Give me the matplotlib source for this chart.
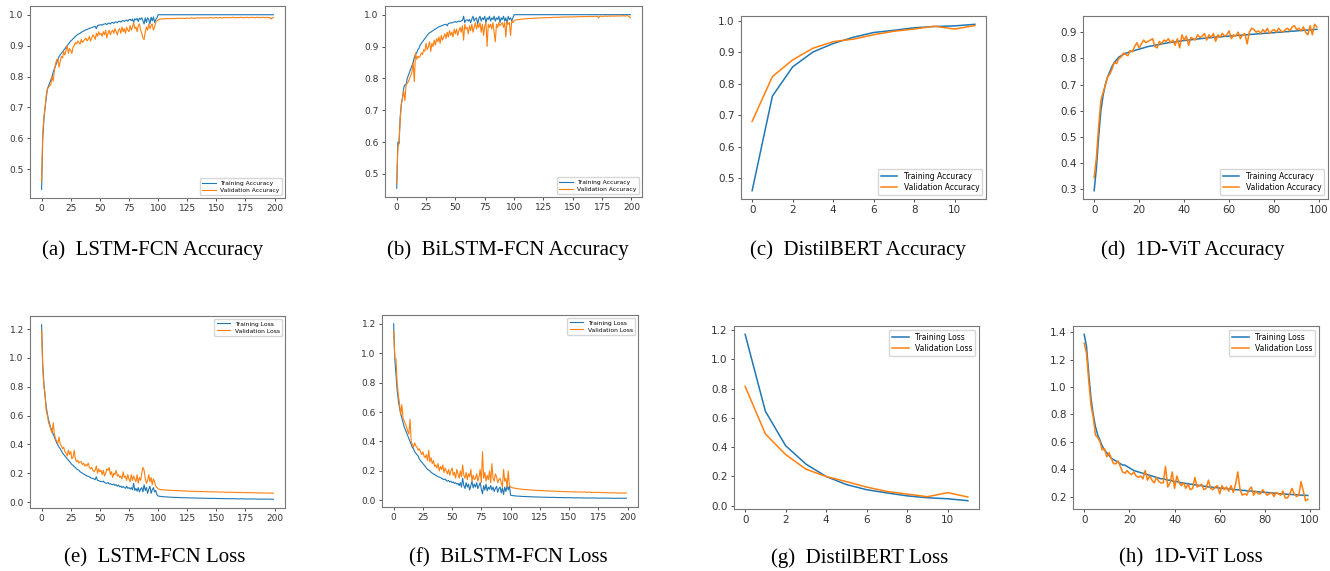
import matplotlib
matplotlib.use("Agg")
import matplotlib.pyplot as plt

# ---- LSTM-FCN (200 epochs) ----
lstm_acc_train = [
    0.435, 0.60, 0.66, 0.70, 0.73, 0.76, 0.77, 0.78, 0.79, 0.80,
    0.815, 0.825, 0.835, 0.845, 0.855, 0.865, 0.87, 0.875, 0.88, 0.885,
    0.89, 0.895, 0.90, 0.905, 0.91, 0.915, 0.918, 0.922, 0.926, 0.93,
    0.933, 0.936, 0.938, 0.94, 0.943, 0.945, 0.947, 0.949, 0.951, 0.952,
    0.954, 0.956, 0.957, 0.958, 0.960, 0.961, 0.962, 0.955, 0.965, 0.966,
    0.967, 0.968, 0.966, 0.969, 0.970, 0.971, 0.968, 0.972, 0.973, 0.970,
    0.974, 0.975, 0.972, 0.976, 0.977, 0.974, 0.978, 0.979, 0.976, 0.980,
    0.981, 0.978, 0.982, 0.983, 0.979, 0.984, 0.985, 0.981, 0.986, 0.975,
    0.987, 0.983, 0.988, 0.978, 0.989, 0.985, 0.99, 0.98, 0.97, 0.99,
    0.975, 0.99, 0.985, 0.97, 0.992, 0.98, 0.993, 0.975, 0.985, 0.99,
    1.0, 1.0, 1.0, 1.0, 1.0, 1.0, 1.0, 1.0, 1.0, 1.0,
    1.0, 1.0, 1.0, 1.0, 1.0, 1.0, 1.0, 1.0, 1.0, 1.0,
    1.0, 1.0, 1.0, 1.0, 1.0, 1.0, 1.0, 1.0, 1.0, 1.0,
    1.0, 1.0, 1.0, 1.0, 1.0, 1.0, 1.0, 1.0, 1.0, 1.0,
    1.0, 1.0, 1.0, 1.0, 1.0, 1.0, 1.0, 1.0, 1.0, 1.0,
    1.0, 1.0, 1.0, 1.0, 1.0, 1.0, 1.0, 1.0, 1.0, 1.0,
    1.0, 1.0, 1.0, 1.0, 1.0, 1.0, 1.0, 1.0, 1.0, 1.0,
    1.0, 1.0, 1.0, 1.0, 1.0, 1.0, 1.0, 1.0, 1.0, 1.0,
    1.0, 1.0, 1.0, 1.0, 1.0, 1.0, 1.0, 1.0, 1.0, 1.0,
    1.0, 1.0, 1.0, 1.0, 1.0, 1.0, 1.0, 1.0, 1.0, 1.0,
]
lstm_acc_val = [
    0.46, 0.62, 0.67, 0.70, 0.74, 0.76, 0.765, 0.77, 0.775, 0.80,
    0.785, 0.82, 0.84, 0.855, 0.855, 0.83, 0.85, 0.865, 0.86, 0.88,
    0.87, 0.885, 0.90, 0.875, 0.89, 0.885, 0.875, 0.895, 0.90, 0.91,
    0.905, 0.915, 0.91, 0.905, 0.92, 0.91, 0.915, 0.92, 0.925, 0.915,
    0.92, 0.93, 0.915, 0.925, 0.935, 0.93, 0.92, 0.94, 0.93, 0.945,
    0.935, 0.94, 0.93, 0.945, 0.935, 0.95, 0.925, 0.94, 0.95, 0.935,
    0.945, 0.95, 0.94, 0.955, 0.945, 0.935, 0.95, 0.955, 0.94, 0.96,
    0.945, 0.955, 0.94, 0.96, 0.95, 0.945, 0.965, 0.95, 0.96, 0.975,
    0.955, 0.96, 0.945, 0.965, 0.97, 0.95, 0.94, 0.925, 0.92, 0.945,
    0.96, 0.95, 0.97, 0.955, 0.965, 0.97, 0.95, 0.96, 0.975, 0.98,
    0.983, 0.985, 0.986, 0.986, 0.987, 0.986, 0.987, 0.987, 0.988, 0.987,
    0.988, 0.987, 0.988, 0.988, 0.987, 0.988, 0.988, 0.989, 0.988, 0.988,
    0.989, 0.988, 0.989, 0.987, 0.989, 0.989, 0.988, 0.989, 0.989, 0.99,
    0.989, 0.988, 0.989, 0.99, 0.989, 0.99, 0.989, 0.99, 0.99, 0.989,
    0.99, 0.99, 0.989, 0.99, 0.99, 0.991, 0.99, 0.989, 0.99, 0.99,
    0.991, 0.99, 0.99, 0.991, 0.99, 0.989, 0.991, 0.99, 0.991, 0.99,
    0.991, 0.991, 0.99, 0.991, 0.992, 0.991, 0.99, 0.991, 0.991, 0.99,
    0.991, 0.992, 0.991, 0.99, 0.991, 0.991, 0.992, 0.991, 0.99, 0.991,
    0.992, 0.991, 0.991, 0.99, 0.991, 0.992, 0.991, 0.99, 0.991, 0.991,
    0.992, 0.991, 0.99, 0.991, 0.992, 0.99, 0.991, 0.986, 0.99, 0.991,
]
lstm_loss_train = [
    1.23, 0.95, 0.82, 0.73, 0.66, 0.61, 0.57, 0.54, 0.51, 0.49,
    0.47, 0.45, 0.43, 0.41, 0.395, 0.38, 0.37, 0.355, 0.34, 0.33,
    0.32, 0.31, 0.30, 0.29, 0.28, 0.27, 0.26, 0.255, 0.245, 0.24,
    0.23, 0.225, 0.22, 0.21, 0.205, 0.20, 0.195, 0.19, 0.185, 0.18,
    0.178, 0.175, 0.17, 0.165, 0.163, 0.16, 0.155, 0.175, 0.15, 0.148,
    0.145, 0.142, 0.14, 0.145, 0.135, 0.132, 0.13, 0.135, 0.125, 0.128,
    0.122, 0.12, 0.125, 0.115, 0.12, 0.11, 0.118, 0.105, 0.11, 0.10,
    0.108, 0.10, 0.095, 0.11, 0.095, 0.10, 0.09, 0.10, 0.085, 0.13,
    0.08, 0.095, 0.075, 0.10, 0.07, 0.09, 0.10, 0.07, 0.12, 0.08,
    0.10, 0.06, 0.09, 0.11, 0.06, 0.085, 0.10, 0.07, 0.08, 0.05,
    0.042, 0.040, 0.039, 0.038, 0.037, 0.036, 0.036, 0.035, 0.035, 0.034,
    0.034, 0.033, 0.033, 0.033, 0.032, 0.032, 0.032, 0.031, 0.031, 0.031,
    0.030, 0.030, 0.030, 0.030, 0.029, 0.029, 0.029, 0.029, 0.028, 0.028,
    0.028, 0.028, 0.028, 0.027, 0.027, 0.027, 0.027, 0.027, 0.026, 0.026,
    0.026, 0.026, 0.026, 0.026, 0.025, 0.025, 0.025, 0.025, 0.025, 0.025,
    0.025, 0.024, 0.024, 0.024, 0.024, 0.024, 0.024, 0.024, 0.023, 0.023,
    0.023, 0.023, 0.023, 0.023, 0.023, 0.023, 0.022, 0.022, 0.022, 0.022,
    0.022, 0.022, 0.022, 0.022, 0.022, 0.021, 0.021, 0.021, 0.021, 0.021,
    0.021, 0.021, 0.021, 0.021, 0.021, 0.020, 0.020, 0.020, 0.020, 0.020,
    0.020, 0.020, 0.020, 0.020, 0.020, 0.020, 0.020, 0.019, 0.019, 0.019,
]
lstm_loss_val = [
    1.19, 0.92, 0.80, 0.75, 0.63, 0.60, 0.55, 0.53, 0.50, 0.48,
    0.55, 0.47, 0.44, 0.42, 0.41, 0.45, 0.40, 0.39, 0.37, 0.38,
    0.35, 0.34, 0.32, 0.36, 0.33, 0.35, 0.30, 0.31, 0.36, 0.30,
    0.28, 0.29, 0.27, 0.28, 0.28, 0.26, 0.27, 0.25, 0.26, 0.25,
    0.27, 0.24, 0.23, 0.24, 0.22, 0.21, 0.22, 0.25, 0.20, 0.23,
    0.21, 0.22, 0.19, 0.22, 0.18, 0.20, 0.23, 0.22, 0.24, 0.19,
    0.21, 0.17, 0.20, 0.19, 0.22, 0.18, 0.19, 0.17, 0.18, 0.16,
    0.21, 0.17, 0.18, 0.15, 0.19, 0.16, 0.14, 0.19, 0.15, 0.18,
    0.16, 0.14, 0.19, 0.13, 0.17, 0.15, 0.20, 0.24, 0.22, 0.16,
    0.13, 0.15, 0.19, 0.14, 0.17, 0.12, 0.16, 0.14, 0.11, 0.10,
    0.092, 0.088, 0.086, 0.085, 0.085, 0.084, 0.083, 0.083, 0.082, 0.082,
    0.081, 0.081, 0.080, 0.080, 0.080, 0.079, 0.079, 0.078, 0.078, 0.078,
    0.077, 0.077, 0.077, 0.076, 0.076, 0.076, 0.075, 0.075, 0.075, 0.075,
    0.074, 0.074, 0.074, 0.074, 0.073, 0.073, 0.073, 0.073, 0.072, 0.072,
    0.072, 0.072, 0.071, 0.071, 0.071, 0.071, 0.071, 0.070, 0.072, 0.070,
    0.070, 0.070, 0.069, 0.069, 0.069, 0.069, 0.069, 0.068, 0.068, 0.068,
    0.068, 0.068, 0.068, 0.067, 0.067, 0.067, 0.067, 0.067, 0.066, 0.066,
    0.066, 0.066, 0.066, 0.066, 0.065, 0.065, 0.065, 0.065, 0.064, 0.066,
    0.065, 0.064, 0.064, 0.064, 0.064, 0.063, 0.064, 0.063, 0.063, 0.063,
    0.063, 0.063, 0.062, 0.062, 0.062, 0.062, 0.062, 0.061, 0.062, 0.060,
]

# ---- BiLSTM-FCN (200 epochs) ----
bilstm_acc_train = [
    0.455, 0.60, 0.595, 0.68, 0.72, 0.74, 0.77, 0.78, 0.78, 0.80,
    0.81, 0.82, 0.83, 0.84, 0.85, 0.865, 0.875, 0.88, 0.89, 0.895,
    0.905, 0.91, 0.915, 0.92, 0.925, 0.93, 0.935, 0.94, 0.943, 0.945,
    0.948, 0.95, 0.953, 0.955, 0.957, 0.96, 0.962, 0.963, 0.965, 0.966,
    0.968, 0.969, 0.97, 0.965, 0.972, 0.973, 0.975, 0.974, 0.976, 0.977,
    0.978, 0.976, 0.979, 0.98, 0.978, 0.981, 0.982, 0.995, 0.975, 0.983,
    0.984, 0.98, 0.985, 0.975, 0.986, 0.995, 0.98, 0.987, 0.99, 0.97,
    0.988, 0.995, 0.98, 0.99, 0.985, 0.995, 0.975, 0.99, 0.985, 0.995,
    0.98, 0.99, 0.985, 0.995, 0.98, 0.99, 0.985, 0.995, 0.975, 0.99,
    0.985, 0.995, 0.98, 0.99, 0.97, 0.995, 0.985, 0.99, 0.98, 0.99,
    1.0, 1.0, 1.0, 1.0, 1.0, 1.0, 1.0, 1.0, 1.0, 1.0,
    1.0, 1.0, 1.0, 1.0, 1.0, 1.0, 1.0, 1.0, 1.0, 1.0,
    1.0, 1.0, 1.0, 1.0, 1.0, 1.0, 1.0, 1.0, 1.0, 1.0,
    1.0, 1.0, 1.0, 1.0, 1.0, 1.0, 1.0, 1.0, 1.0, 1.0,
    1.0, 1.0, 1.0, 1.0, 1.0, 1.0, 1.0, 1.0, 1.0, 1.0,
    1.0, 1.0, 1.0, 1.0, 1.0, 1.0, 1.0, 1.0, 1.0, 1.0,
    1.0, 1.0, 1.0, 1.0, 1.0, 1.0, 1.0, 1.0, 1.0, 1.0,
    1.0, 1.0, 1.0, 1.0, 1.0, 1.0, 1.0, 1.0, 1.0, 1.0,
    1.0, 1.0, 1.0, 1.0, 1.0, 1.0, 1.0, 1.0, 1.0, 1.0,
    1.0, 1.0, 1.0, 1.0, 1.0, 1.0, 1.0, 1.0, 1.0, 1.0,
]
bilstm_acc_val = [
    0.47, 0.58, 0.60, 0.67, 0.72, 0.74, 0.76, 0.73, 0.78, 0.785,
    0.79, 0.80, 0.81, 0.82, 0.85, 0.79, 0.88, 0.86, 0.87, 0.865,
    0.87, 0.88, 0.875, 0.89, 0.885, 0.91, 0.89, 0.90, 0.915, 0.885,
    0.91, 0.90, 0.92, 0.905, 0.925, 0.915, 0.93, 0.91, 0.935, 0.92,
    0.93, 0.94, 0.925, 0.945, 0.93, 0.95, 0.935, 0.945, 0.93, 0.955,
    0.94, 0.955, 0.935, 0.95, 0.96, 0.945, 0.965, 0.92, 0.97, 0.955,
    0.96, 0.94, 0.965, 0.95, 0.97, 0.945, 0.96, 0.975, 0.955, 0.97,
    0.96, 0.975, 0.945, 0.97, 0.935, 0.965, 0.975, 0.90, 0.97, 0.96,
    0.97, 0.955, 0.975, 0.945, 0.915, 0.97, 0.96, 0.975, 0.965, 0.97,
    0.975, 0.96, 0.975, 0.93, 0.98, 0.97, 0.975, 0.935, 0.98, 0.975,
    0.982, 0.983, 0.984, 0.984, 0.985, 0.985, 0.986, 0.986, 0.986, 0.987,
    0.987, 0.987, 0.988, 0.988, 0.988, 0.988, 0.989, 0.989, 0.989, 0.989,
    0.99, 0.989, 0.99, 0.99, 0.99, 0.99, 0.991, 0.99, 0.991, 0.991,
    0.991, 0.991, 0.991, 0.992, 0.991, 0.992, 0.992, 0.992, 0.992, 0.992,
    0.992, 0.993, 0.992, 0.993, 0.993, 0.993, 0.992, 0.993, 0.993, 0.993,
    0.993, 0.994, 0.993, 0.993, 0.994, 0.993, 0.994, 0.994, 0.994, 0.994,
    0.994, 0.994, 0.994, 0.995, 0.994, 0.994, 0.995, 0.994, 0.995, 0.995,
    0.995, 0.995, 0.99, 0.995, 0.995, 0.995, 0.995, 0.995, 0.996, 0.995,
    0.995, 0.996, 0.995, 0.996, 0.996, 0.995, 0.996, 0.996, 0.996, 0.996,
    0.996, 0.996, 0.996, 0.997, 0.996, 0.996, 0.997, 0.996, 0.995, 0.99,
]
bilstm_loss_train = [
    1.20, 0.96, 0.85, 0.75, 0.68, 0.63, 0.59, 0.56, 0.53, 0.50,
    0.48, 0.46, 0.44, 0.42, 0.40, 0.38, 0.36, 0.35, 0.33, 0.32,
    0.31, 0.30, 0.28, 0.27, 0.26, 0.25, 0.24, 0.23, 0.22, 0.21,
    0.205, 0.20, 0.19, 0.185, 0.18, 0.175, 0.17, 0.165, 0.16, 0.158,
    0.155, 0.15, 0.145, 0.14, 0.145, 0.135, 0.13, 0.135, 0.125, 0.13,
    0.12, 0.125, 0.115, 0.12, 0.11, 0.115, 0.10, 0.12, 0.09, 0.15,
    0.10, 0.08, 0.12, 0.09, 0.11, 0.07, 0.10, 0.13, 0.085, 0.11,
    0.09, 0.12, 0.08, 0.10, 0.12, 0.075, 0.045, 0.10, 0.07, 0.11,
    0.065, 0.09, 0.075, 0.10, 0.07, 0.09, 0.06, 0.08, 0.095, 0.055,
    0.08, 0.09, 0.05, 0.085, 0.04, 0.09, 0.06, 0.10, 0.07, 0.10,
    0.035, 0.033, 0.032, 0.031, 0.030, 0.029, 0.029, 0.028, 0.028, 0.027,
    0.027, 0.026, 0.026, 0.026, 0.025, 0.025, 0.025, 0.024, 0.024, 0.024,
    0.023, 0.023, 0.023, 0.023, 0.022, 0.022, 0.022, 0.022, 0.021, 0.021,
    0.021, 0.021, 0.021, 0.020, 0.020, 0.020, 0.020, 0.020, 0.020, 0.019,
    0.019, 0.019, 0.019, 0.019, 0.019, 0.018, 0.018, 0.018, 0.018, 0.018,
    0.018, 0.018, 0.018, 0.017, 0.017, 0.017, 0.017, 0.017, 0.017, 0.017,
    0.017, 0.017, 0.016, 0.016, 0.016, 0.016, 0.016, 0.016, 0.016, 0.016,
    0.016, 0.016, 0.016, 0.015, 0.015, 0.015, 0.015, 0.015, 0.015, 0.015,
    0.015, 0.015, 0.015, 0.015, 0.015, 0.015, 0.014, 0.014, 0.014, 0.014,
    0.014, 0.014, 0.014, 0.014, 0.014, 0.014, 0.014, 0.014, 0.014, 0.014,
]
bilstm_loss_val = [
    1.15, 0.97, 0.96, 0.80, 0.72, 0.66, 0.58, 0.65, 0.56, 0.54,
    0.52, 0.50, 0.47, 0.45, 0.55, 0.40, 0.38, 0.36, 0.39, 0.37,
    0.36, 0.34, 0.35, 0.33, 0.31, 0.33, 0.30, 0.29, 0.31, 0.27,
    0.34, 0.26, 0.29, 0.25, 0.27, 0.23, 0.24, 0.22, 0.25, 0.20,
    0.23, 0.21, 0.24, 0.19, 0.22, 0.20, 0.18, 0.21, 0.17, 0.20,
    0.22, 0.17, 0.19, 0.15, 0.21, 0.18, 0.15, 0.20, 0.16, 0.24,
    0.17, 0.15, 0.19, 0.14, 0.18, 0.16, 0.21, 0.13, 0.17, 0.14,
    0.15, 0.18, 0.13, 0.16, 0.21, 0.12, 0.33, 0.15, 0.19, 0.13,
    0.17, 0.14, 0.20, 0.12, 0.25, 0.15, 0.13, 0.18, 0.16, 0.12,
    0.14, 0.15, 0.12, 0.09, 0.21, 0.13, 0.15, 0.09, 0.20, 0.10,
    0.090, 0.087, 0.085, 0.083, 0.082, 0.080, 0.079, 0.078, 0.077, 0.076,
    0.075, 0.074, 0.074, 0.073, 0.072, 0.072, 0.071, 0.070, 0.070, 0.069,
    0.069, 0.068, 0.068, 0.067, 0.067, 0.066, 0.066, 0.066, 0.065, 0.065,
    0.064, 0.064, 0.066, 0.063, 0.063, 0.063, 0.062, 0.062, 0.062, 0.061,
    0.061, 0.061, 0.060, 0.060, 0.060, 0.060, 0.059, 0.059, 0.059, 0.059,
    0.058, 0.058, 0.058, 0.058, 0.057, 0.057, 0.057, 0.057, 0.057, 0.056,
    0.056, 0.056, 0.056, 0.058, 0.055, 0.055, 0.055, 0.055, 0.055, 0.054,
    0.054, 0.054, 0.054, 0.054, 0.053, 0.056, 0.053, 0.053, 0.053, 0.053,
    0.052, 0.052, 0.052, 0.052, 0.052, 0.051, 0.051, 0.051, 0.051, 0.051,
    0.050, 0.050, 0.050, 0.050, 0.050, 0.050, 0.049, 0.049, 0.050, 0.051,
]

# ---- DistilBERT (12 epochs) ----
bert_acc_train = [0.46, 0.76, 0.853, 0.90, 0.927, 0.947, 0.962, 0.969, 0.977, 0.981, 0.983, 0.988]
bert_acc_val = [0.68, 0.822, 0.875, 0.912, 0.933, 0.941, 0.955, 0.966, 0.973, 0.982, 0.973, 0.984]
bert_loss_train = [1.17, 0.645, 0.41, 0.285, 0.20, 0.145, 0.11, 0.088, 0.068, 0.055, 0.048, 0.035]
bert_loss_val = [0.815, 0.49, 0.35, 0.25, 0.20, 0.165, 0.128, 0.098, 0.08, 0.062, 0.09, 0.06]

# ---- 1D-ViT (100 epochs) ----
vit_acc_train = [
    0.295, 0.38, 0.50, 0.60, 0.66, 0.70, 0.73, 0.75, 0.77, 0.785,
    0.795, 0.805, 0.81, 0.815, 0.82, 0.822, 0.825, 0.828, 0.83, 0.833,
    0.835, 0.838, 0.84, 0.843, 0.845, 0.847, 0.848, 0.85, 0.852, 0.853,
    0.855, 0.857, 0.858, 0.86, 0.861, 0.862, 0.863, 0.865, 0.866, 0.867,
    0.868, 0.869, 0.87, 0.871, 0.872, 0.873, 0.874, 0.875, 0.876, 0.877,
    0.878, 0.879, 0.879, 0.88, 0.881, 0.882, 0.882, 0.883, 0.884, 0.884,
    0.885, 0.886, 0.886, 0.887, 0.888, 0.888, 0.889, 0.89, 0.89, 0.891,
    0.892, 0.892, 0.893, 0.894, 0.894, 0.895, 0.896, 0.896, 0.897, 0.898,
    0.898, 0.899, 0.90, 0.90, 0.901, 0.902, 0.902, 0.903, 0.904, 0.904,
    0.905, 0.906, 0.906, 0.907, 0.908, 0.908, 0.909, 0.91, 0.91, 0.911,
]
vit_acc_val = [
    0.345, 0.42, 0.54, 0.64, 0.67, 0.70, 0.73, 0.74, 0.76, 0.785,
    0.78, 0.80, 0.805, 0.82, 0.815, 0.81, 0.83, 0.825, 0.845, 0.86,
    0.84, 0.855, 0.87, 0.86, 0.865, 0.87, 0.875, 0.845, 0.84, 0.865,
    0.855, 0.87, 0.865, 0.875, 0.86, 0.87, 0.85, 0.875, 0.84, 0.89,
    0.87, 0.885, 0.85, 0.88, 0.875, 0.87, 0.89, 0.88, 0.885, 0.895,
    0.87, 0.89, 0.88, 0.895, 0.865, 0.89, 0.88, 0.895, 0.885, 0.89,
    0.905, 0.875, 0.89, 0.885, 0.90, 0.875, 0.89, 0.895, 0.855, 0.90,
    0.915, 0.91, 0.90, 0.905, 0.895, 0.91, 0.90, 0.915, 0.895, 0.905,
    0.91, 0.90, 0.915, 0.905, 0.90, 0.91, 0.915, 0.905, 0.92, 0.925,
    0.91, 0.915, 0.905, 0.92, 0.90, 0.89, 0.925, 0.89, 0.93, 0.92,
]
vit_loss_train = [
    1.385, 1.30, 1.10, 0.92, 0.80, 0.71, 0.65, 0.61, 0.57, 0.54,
    0.52, 0.50, 0.48, 0.47, 0.46, 0.45, 0.44, 0.43, 0.43, 0.42,
    0.41, 0.40, 0.39, 0.385, 0.38, 0.375, 0.37, 0.365, 0.36, 0.355,
    0.35, 0.345, 0.34, 0.335, 0.33, 0.33, 0.325, 0.32, 0.32, 0.315,
    0.31, 0.31, 0.305, 0.30, 0.30, 0.295, 0.295, 0.29, 0.29, 0.285,
    0.285, 0.28, 0.28, 0.275, 0.275, 0.27, 0.27, 0.268, 0.265, 0.265,
    0.262, 0.26, 0.26, 0.258, 0.255, 0.255, 0.252, 0.25, 0.25, 0.248,
    0.245, 0.245, 0.242, 0.24, 0.24, 0.238, 0.236, 0.235, 0.233, 0.232,
    0.23, 0.23, 0.228, 0.226, 0.225, 0.224, 0.222, 0.22, 0.22, 0.218,
    0.217, 0.216, 0.215, 0.214, 0.213, 0.212, 0.211, 0.21, 0.209, 0.208,
]
vit_loss_val = [
    1.32, 1.25, 1.05, 0.87, 0.78, 0.65, 0.63, 0.60, 0.54, 0.55,
    0.49, 0.52, 0.48, 0.44, 0.44, 0.46, 0.42, 0.38, 0.37, 0.39,
    0.37, 0.36, 0.38, 0.35, 0.34, 0.35, 0.33, 0.39, 0.32, 0.35,
    0.32, 0.30, 0.34, 0.31, 0.30, 0.30, 0.42, 0.27, 0.30, 0.38,
    0.26, 0.35, 0.30, 0.28, 0.30, 0.26, 0.29, 0.25, 0.26, 0.34,
    0.27, 0.28, 0.29, 0.25, 0.26, 0.32, 0.26, 0.25, 0.27, 0.28,
    0.22, 0.28, 0.25, 0.27, 0.24, 0.28, 0.23, 0.29, 0.38, 0.25,
    0.21, 0.22, 0.21, 0.25, 0.27, 0.21, 0.24, 0.22, 0.22, 0.25,
    0.23, 0.21, 0.22, 0.23, 0.20, 0.23, 0.22, 0.21, 0.24, 0.19,
    0.19, 0.22, 0.26, 0.22, 0.20, 0.21, 0.31, 0.24, 0.17, 0.18,
]

captions = [
    "(a)  LSTM-FCN Accuracy", "(b)  BiLSTM-FCN Accuracy",
    "(c)  DistilBERT Accuracy", "(d)  1D-ViT Accuracy",
    "(e)  LSTM-FCN Loss", "(f)  BiLSTM-FCN Loss",
    "(g)  DistilBERT Loss", "(h)  1D-ViT Loss",
]

W, H = 1330, 571
fig = plt.figure(figsize=(W / 100, H / 100), dpi=100)


def panel(box, train, val, kind, legend_loc, small, caption, cap_xy):
    # box = pixel left, top, right, bottom
    x0, y0, x1, y1 = box
    ax = fig.add_axes([x0 / W, 1 - y1 / H, (x1 - x0) / W, (y1 - y0) / H])
    lw = 0.8 if small else 1.1
    ax.plot(range(len(train)), train, color="#1f77b4", lw=lw, label="Training " + kind)
    ax.plot(range(len(val)), val, color="#ff7f0e", lw=lw, label="Validation " + kind)
    fs = 6.5 if small else 7.5
    ax.tick_params(labelsize=fs, length=2.5, width=0.6, colors="#333333", pad=2)
    for s in ax.spines.values():
        s.set_color("#777777")
        s.set_linewidth(0.8)
    ax.legend(loc=legend_loc, fontsize=4.3 if small else 5.5, handlelength=2.2,
              borderpad=0.4, labelspacing=0.3, framealpha=0.8)
    fig.text(cap_xy[0] / W, 1 - cap_xy[1] / H, caption, ha="center", va="center",
             fontsize=15, family="Liberation Serif")
    return ax


panel((30, 6, 285, 198), lstm_acc_train, lstm_acc_val, "Accuracy", "lower right", True, captions[0], (153, 250))
panel((385, 6, 642, 197), bilstm_acc_train, bilstm_acc_val, "Accuracy", "lower right", True, captions[1], (508, 250))
panel((741, 16, 986, 199), bert_acc_train, bert_acc_val, "Accuracy", "lower right", False, captions[2], (858, 250))
panel((1083, 16, 1328, 199), vit_acc_train, vit_acc_val, "Accuracy", "lower right", False, captions[3], (1193, 250))
panel((30, 316, 285, 508), lstm_loss_train, lstm_loss_val, "Loss", "upper right", True, captions[4], (155, 558))
panel((382, 315, 638, 507), bilstm_loss_train, bilstm_loss_val, "Loss", "upper right", True, captions[5], (508, 558))
panel((734, 326, 979, 509), bert_loss_train, bert_loss_val, "Loss", "upper right", False, captions[6], (860, 558))
panel((1073, 326, 1319, 509), vit_loss_train, vit_loss_val, "Loss", "upper right", False, captions[7], (1191, 558))

fig.savefig("out.png", dpi=100)
